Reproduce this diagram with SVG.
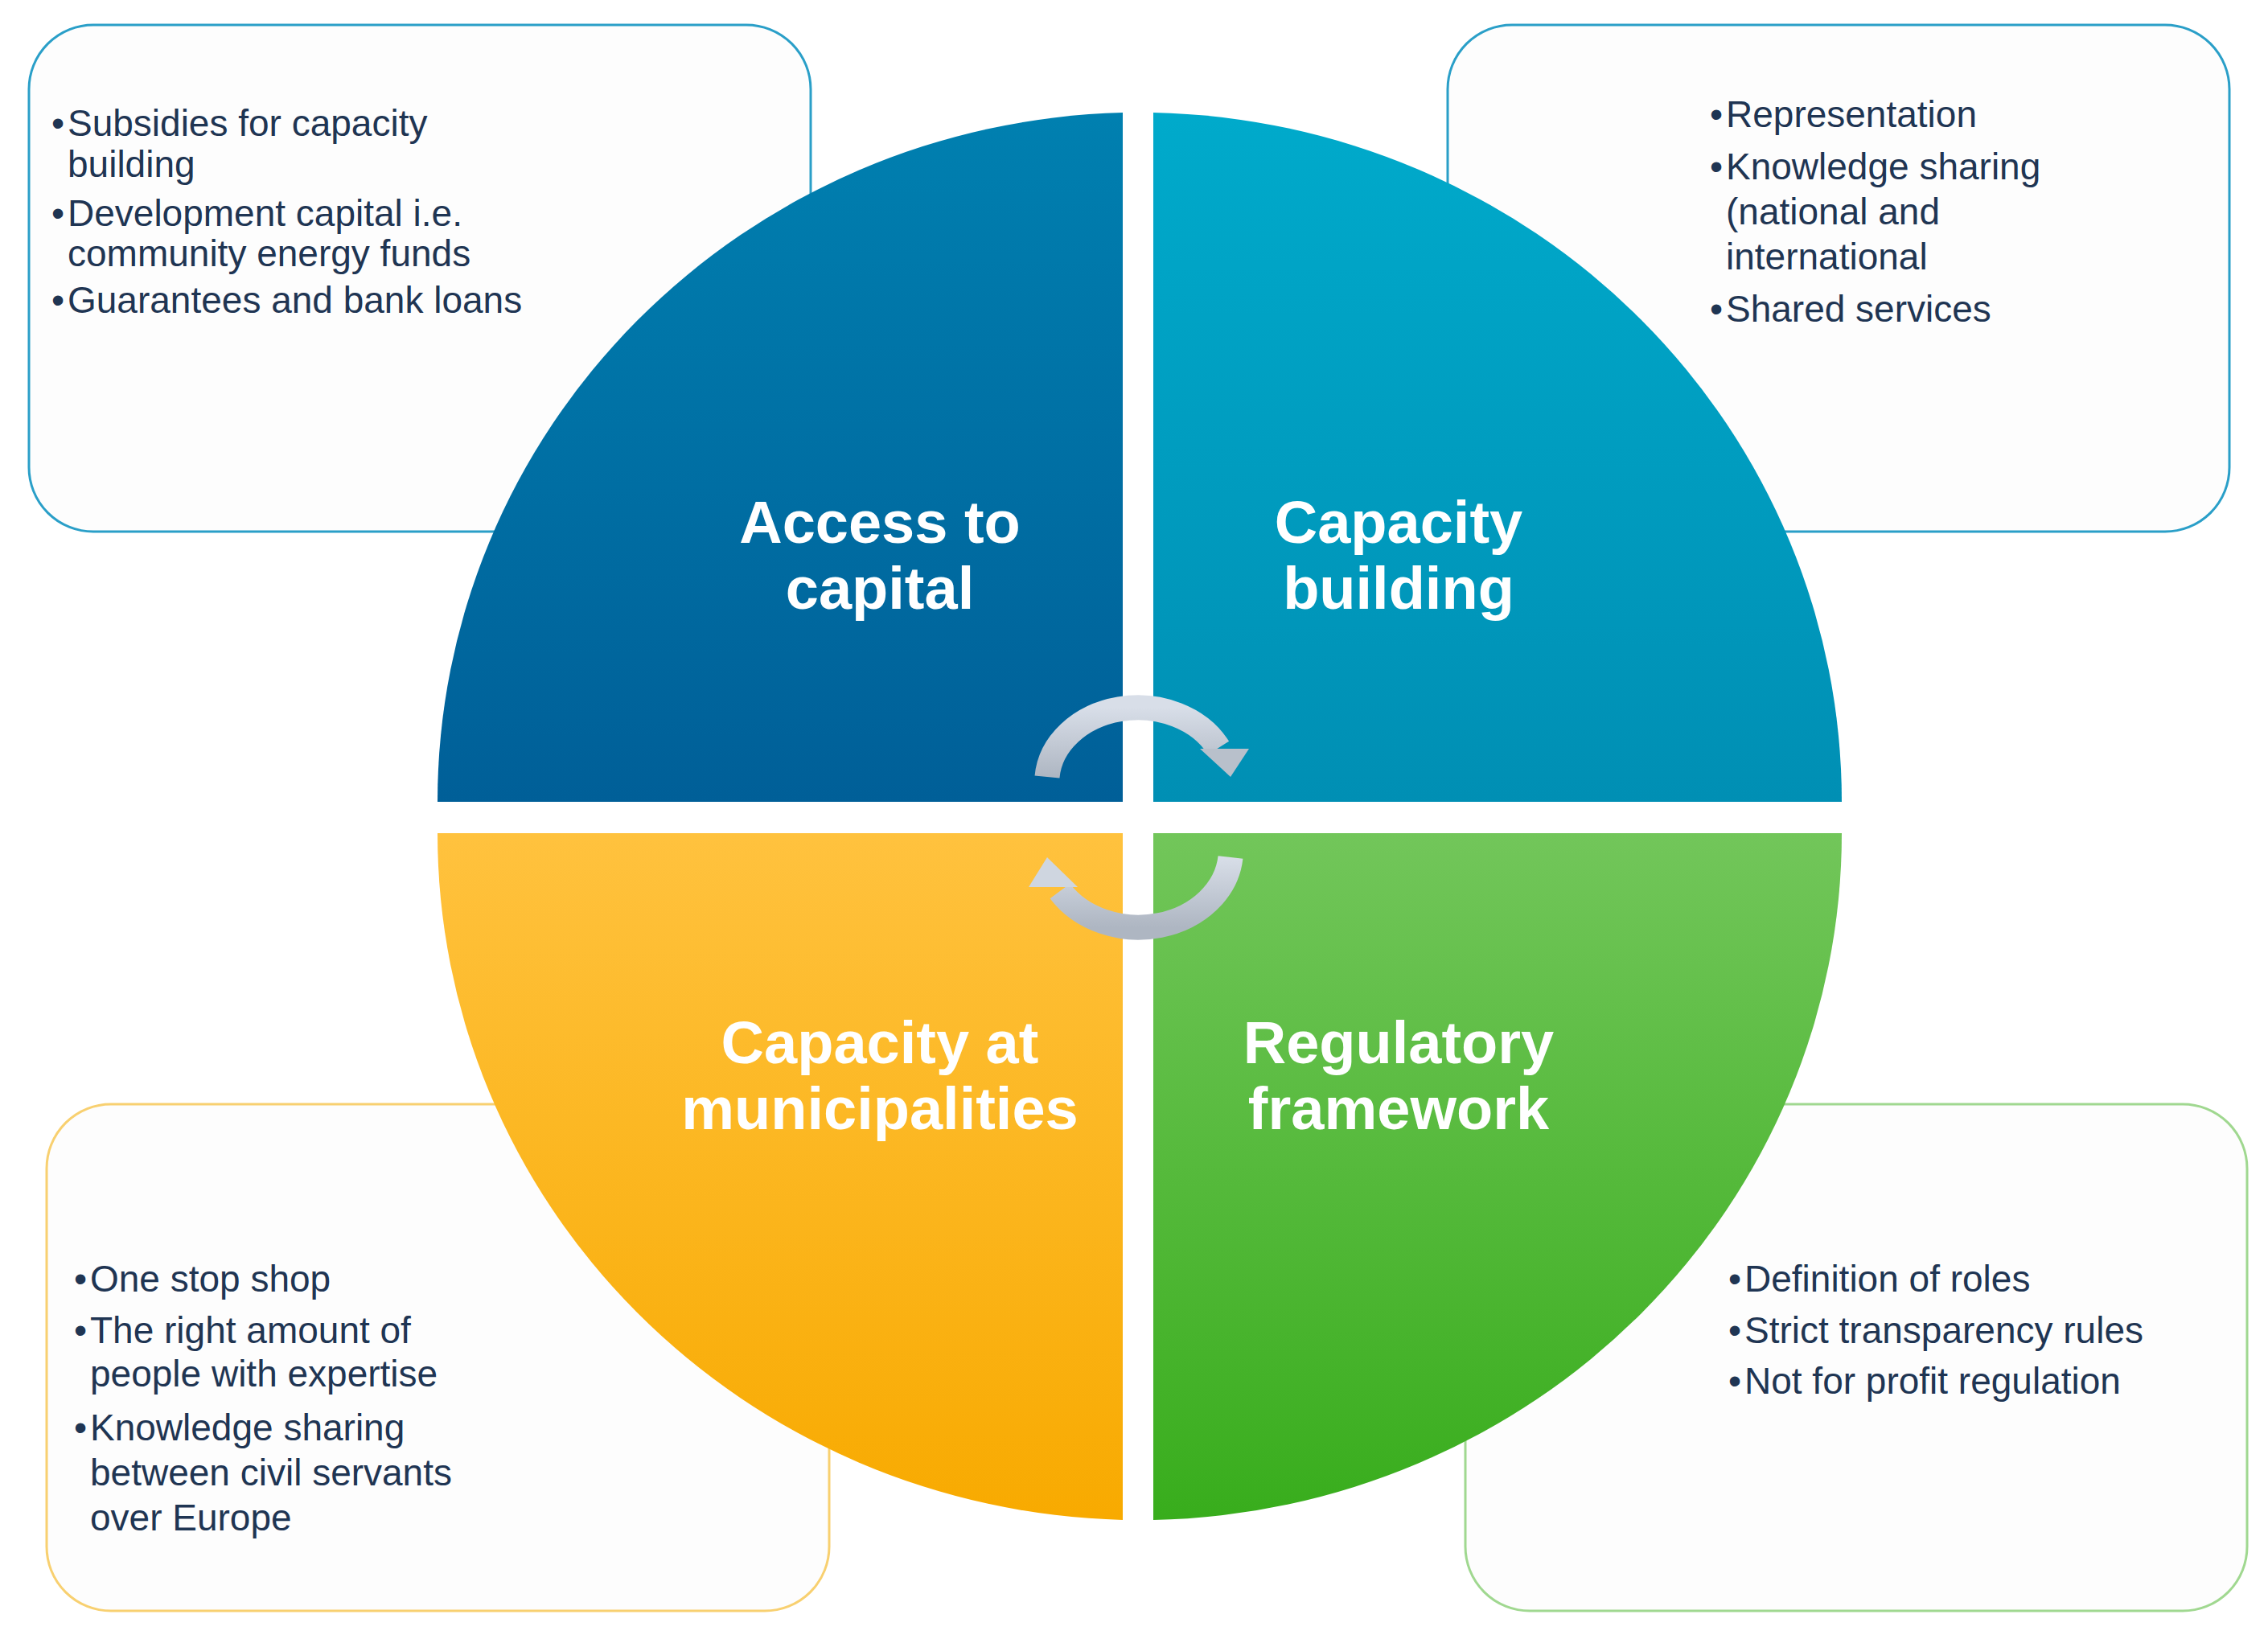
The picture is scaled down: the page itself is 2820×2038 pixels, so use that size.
<svg xmlns="http://www.w3.org/2000/svg" width="2820" height="2038" viewBox="0 0 2820 2038">
<defs>
<linearGradient id="gTL" x1="0" y1="0" x2="0" y2="1"><stop offset="0" stop-color="#0080b0"/><stop offset="1" stop-color="#005f98"/></linearGradient>
<linearGradient id="gTR" x1="0" y1="0" x2="0" y2="1"><stop offset="0" stop-color="#00aacb"/><stop offset="1" stop-color="#008fb4"/></linearGradient>
<linearGradient id="gBL" x1="0" y1="0" x2="0" y2="1"><stop offset="0" stop-color="#ffc23e"/><stop offset="1" stop-color="#f8aa00"/></linearGradient>
<linearGradient id="gBR" x1="0" y1="0" x2="0" y2="1"><stop offset="0" stop-color="#72c65a"/><stop offset="1" stop-color="#38ad1c"/></linearGradient>
<linearGradient id="gA" x1="0" y1="0" x2="0" y2="1"><stop offset="0" stop-color="#d8dee8"/><stop offset="1" stop-color="#aeb6c2"/></linearGradient>
<style>
.box{fill:#fdfdfd;stroke-width:3}
.t{font-family:"Liberation Sans",Arial,sans-serif;font-size:46px;fill:#1f3553}
.h{font-family:"Liberation Sans",Arial,sans-serif;font-size:74px;font-weight:bold;fill:#fff;text-anchor:middle}
</style>
</defs>
<rect width="2820" height="2038" fill="#fff"/>
<g id="box-tl"><rect class="box" x="36" y="31" width="972" height="630" rx="80" stroke="#2a9fc8"/>
<text class="t"><tspan x="64" y="169">•</tspan><tspan x="84" y="169">Subsidies for capacity</tspan><tspan x="84" y="220">building</tspan><tspan x="64" y="281">•</tspan><tspan x="84" y="281">Development capital i.e.</tspan><tspan x="84" y="331">community energy funds</tspan><tspan x="64" y="389">•</tspan><tspan x="84" y="389">Guarantees and bank loans</tspan></text></g>
<g id="box-tr"><rect class="box" x="1800" y="31" width="972" height="630" rx="80" stroke="#2a9fc8"/>
<text class="t"><tspan x="2126" y="158">•</tspan><tspan x="2146" y="158">Representation</tspan><tspan x="2126" y="223">•</tspan><tspan x="2146" y="223">Knowledge sharing</tspan><tspan x="2146" y="279">(national and</tspan><tspan x="2146" y="335">international</tspan><tspan x="2126" y="400">•</tspan><tspan x="2146" y="400">Shared services</tspan></text></g>
<g id="box-bl"><rect class="box" x="58" y="1373" width="973" height="630" rx="80" stroke="#f8d070"/>
<text class="t"><tspan x="92" y="1606">•</tspan><tspan x="112" y="1606">One stop shop</tspan><tspan x="92" y="1670">•</tspan><tspan x="112" y="1670">The right amount of</tspan><tspan x="112" y="1724">people with expertise</tspan><tspan x="92" y="1791">•</tspan><tspan x="112" y="1791">Knowledge sharing</tspan><tspan x="112" y="1847">between civil servants</tspan><tspan x="112" y="1903">over Europe</tspan></text></g>
<g id="box-br"><rect class="box" x="1822" y="1373" width="972" height="630" rx="80" stroke="#a0d890"/>
<text class="t"><tspan x="2149" y="1606">•</tspan><tspan x="2169" y="1606">Definition of roles</tspan><tspan x="2149" y="1670">•</tspan><tspan x="2169" y="1670">Strict transparency rules</tspan><tspan x="2149" y="1733">•</tspan><tspan x="2169" y="1733">Not for profit regulation</tspan></text></g>
<g id="q-tl"><path d="M1396 997 L1396 140 A875 857 0 0 0 544 997 Z" fill="url(#gTL)"/><text class="h"><tspan x="1094" y="675">Access to</tspan><tspan x="1094" y="757">capital</tspan></text></g>
<g id="q-tr"><path d="M1434 997 L1434 140 A875 857 0 0 1 2290 997 Z" fill="url(#gTR)"/><text class="h"><tspan x="1739" y="675">Capacity</tspan><tspan x="1739" y="757">building</tspan></text></g>
<g id="q-bl"><path d="M1396 1036 L1396 1890 A875 854 0 0 1 544 1036 Z" fill="url(#gBL)"/><text class="h"><tspan x="1094" y="1322">Capacity at</tspan><tspan x="1094" y="1404">municipalities</tspan></text></g>
<g id="q-br"><path d="M1434 1036 L1434 1890 A875 854 0 0 0 2290 1036 Z" fill="url(#gBR)"/><text class="h"><tspan x="1739" y="1322">Regulatory</tspan><tspan x="1739" y="1404">framework</tspan></text></g>
<g id="connectors">
<path d="M1302 966 A113 93 0 0 1 1515 930" fill="none" stroke="url(#gA)" stroke-width="31"/>
<polygon points="1530,966 1492,931 1553,931" fill="#b8c0cb"/>
<path d="M1530 1066 A115 96 0 0 1 1318 1108" fill="none" stroke="url(#gA)" stroke-width="31"/>
<polygon points="1302,1066 1279,1103 1340,1103" fill="#cfd6e0"/>
</g>
</svg>
